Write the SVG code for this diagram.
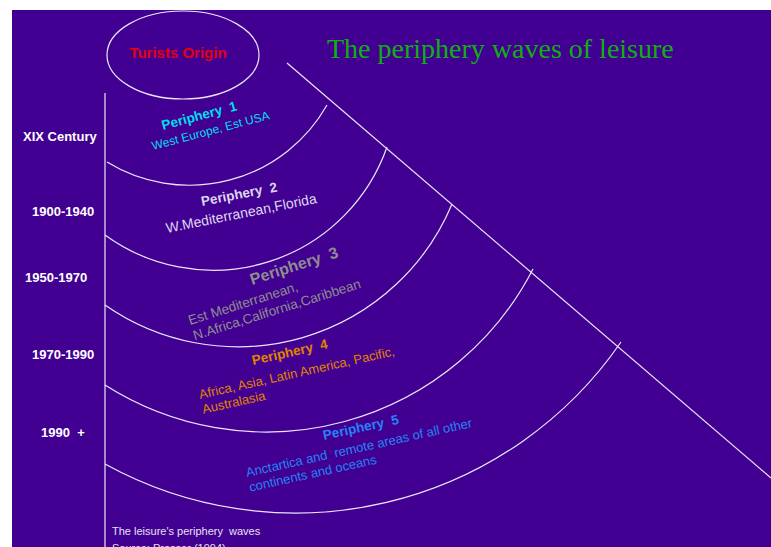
<svg xmlns="http://www.w3.org/2000/svg" width="771" height="547" viewBox="0 0 771 547">
<style>
  .ln { fill: none; stroke: #ece6f8; stroke-width: 1.2; }
  .era { font-family: "Liberation Sans", Arial, sans-serif; font-weight: bold; font-size: 13px; fill: #ffffff; }
  .hd { font-family: "Liberation Sans", Arial, sans-serif; font-weight: bold; font-size: 13.5px; }
  .sub { font-family: "Liberation Sans", Arial, sans-serif; font-size: 13px; }
</style>
<rect x="0" y="0" width="771" height="547" fill="#ffffff"/>
<rect x="12" y="10" width="759" height="537" fill="#420092"/>

<g id="title">
  <text x="327" y="58" font-family="Liberation Serif, 'Times New Roman', serif" font-size="28" fill="#10b010">The periphery waves of leisure</text>
</g>

<g id="origin">
  <ellipse cx="183" cy="55" rx="76" ry="44" class="ln"/>
  <text x="178" y="58" text-anchor="middle" font-family="Liberation Sans, Arial, sans-serif" font-weight="bold" font-size="15" fill="#e00010">Turists Origin</text>
</g>

<g id="connectors">
  <line x1="105" y1="93" x2="105" y2="547" class="ln"/>
  <line x1="287" y1="63" x2="771" y2="478" class="ln"/>
  <path d="M 107 162 A 158 158 0 0 0 327 105" class="ln"/>
  <path d="M 105 235 A 184 184 0 0 0 387 147" class="ln"/>
  <path d="M 105 305 A 232 232 0 0 0 452 204" class="ln"/>
  <path d="M 105 385 A 300 300 0 0 0 533 269" class="ln"/>
  <path d="M 105 464 A 395 395 0 0 0 621 342" class="ln"/>
</g>

<g id="eras">
  <text x="23" y="141" class="era">XIX Century</text>
  <text x="32" y="216" class="era">1900-1940</text>
  <text x="25" y="282" class="era">1950-1970</text>
  <text x="32" y="359" class="era">1970-1990</text>
  <text x="41" y="437" class="era" xml:space="preserve">1990  +</text>
</g>

<g id="periphery1">
  <text transform="translate(163 130) rotate(-15)" class="hd" fill="#00dff0" xml:space="preserve">Periphery  1</text>
  <text transform="translate(153 150) rotate(-14.8)" class="sub" style="font-size:12px" fill="#00dff0">West Europe, Est USA</text>
</g>

<g id="periphery2">
  <text transform="translate(202 206) rotate(-11)" class="hd" fill="#ddd6ee" xml:space="preserve">Periphery  2</text>
  <text transform="translate(167 233) rotate(-11.3)" class="sub" style="font-size:14px" fill="#ddd6ee">W.Mediterranean,Florida</text>
</g>

<g id="periphery3">
  <text transform="translate(252 285) rotate(-17.8)" class="hd" style="font-size:16px" fill="#8e8e8e" xml:space="preserve">Periphery  3</text>
  <text transform="translate(190 325) rotate(-17.5)" class="sub" style="font-size:13.5px" fill="#8e8e8e">
    <tspan x="0" y="0">Est Mediterranean,</tspan>
    <tspan x="0" y="16">N.Africa,California,Caribbean</tspan>
  </text>
</g>

<g id="periphery4">
  <text transform="translate(253 365) rotate(-12.6)" class="hd" fill="#e08400" xml:space="preserve">Periphery  4</text>
  <text transform="translate(200 399) rotate(-12.6)" class="sub" fill="#e08400">
    <tspan x="0" y="0">Africa, Asia, Latin America, Pacific,</tspan>
    <tspan x="0" y="15">Australasia</tspan>
  </text>
</g>

<g id="periphery5">
  <text transform="translate(324 440) rotate(-12.2)" class="hd" fill="#2483f5" xml:space="preserve">Periphery  5</text>
  <text transform="translate(247 477) rotate(-12.5)" class="sub" fill="#2483f5" xml:space="preserve"><tspan x="0" y="0">Anctartica and  remote areas of all other</tspan><tspan x="0" y="15">continents and oceans</tspan></text>
</g>

<g id="caption">
  <text x="112" y="535" font-family="Liberation Sans, Arial, sans-serif" font-size="11" fill="#e6e0f2" xml:space="preserve">The leisure's periphery  waves</text>
  <text x="112" y="552" font-family="Liberation Sans, Arial, sans-serif" font-size="11" fill="#e6e0f2">Source: Prosser (1994)</text>
</g>
</svg>
